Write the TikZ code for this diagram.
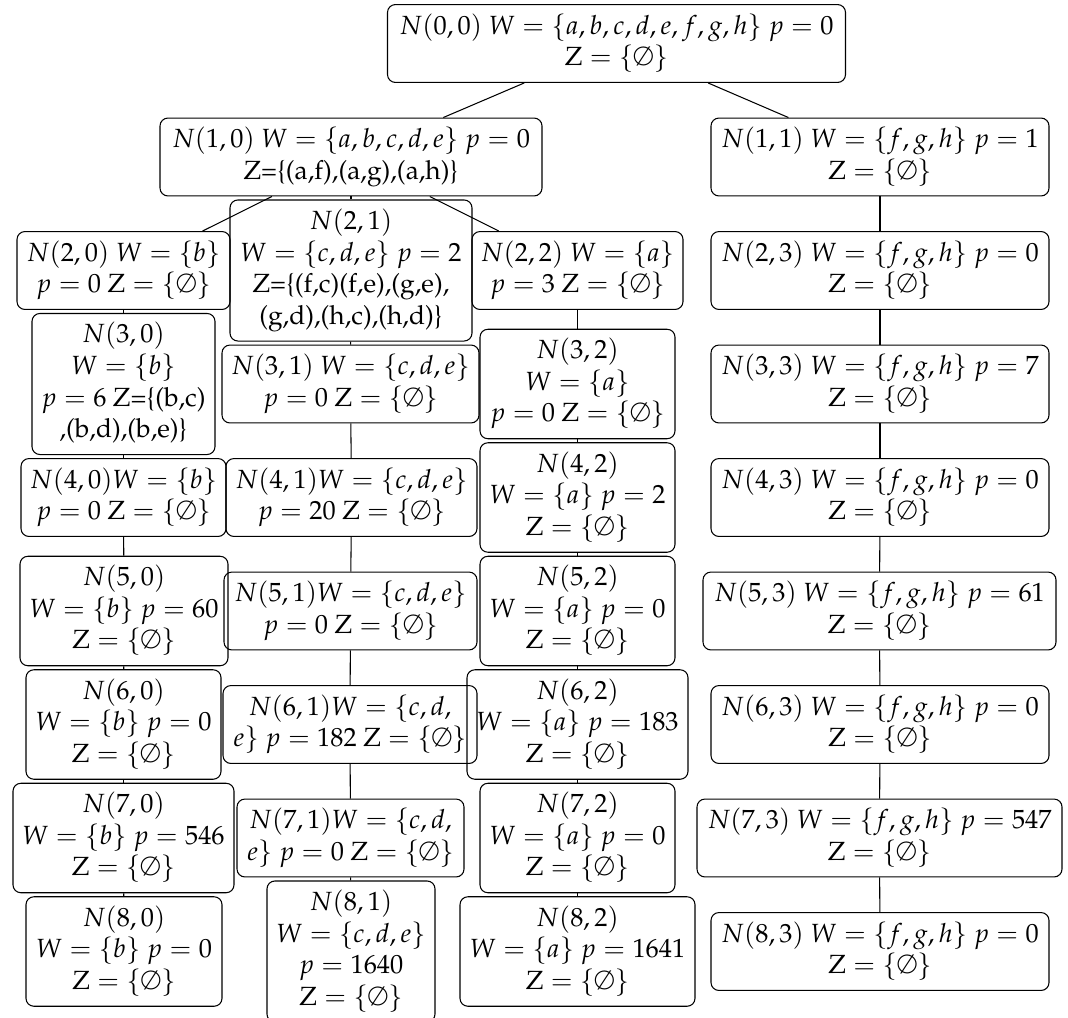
\documentclass[tikz,border=0pt]{standalone}
\usepackage[T1]{fontenc}
\usepackage{mathpazo}
\newlength\pxu
\setlength\pxu{0.38pt}
\newcommand\nb[2]{\makebox[#1\pxu]{\begin{tabular}{@{}c@{}}#2\end{tabular}}}
\newcommand\Ze{Z${}=\{\emptyset\}$}
\begin{document}
\begin{tikzpicture}[x=0.38pt,y=-0.38pt,
  nd/.style={draw,rounded corners=3pt,inner xsep=0pt,inner ysep=2.8pt,line width=0.4pt},
  ed/.style={line width=0.4pt}]
\useasboundingbox (0,0) rectangle (1068,1018);
% level 0-1
\node[nd] (r)   at (616.5,43.5) {\nb{458}{$N(0,0)$ $W=\{a,b,c,d,e,f,g,h\}$ $p=0$\\ \Ze}};
\node[nd] (n10) at (351,157)   {\nb{382}{$N(1,0)$ $W=\{a,b,c,d,e\}$ $p=0$\\ Z=\{(a,f),(a,g),(a,h)\}}};
\node[nd] (n11) at (880,157)   {\nb{338}{$N(1,1)$ $W=\{f,g,h\}$ $p=1$\\ \Ze}};
% level 2
\node[nd] (n20) at (123.5,270.5) {\nb{213}{$N(2,0)$ $W=\{b\}$\\ $p=0$ \Ze}};
\node[nd] (n21) at (351,270.5)   {\nb{242}{$N(2,1)$\\ $W=\{c,d,e\}$ $p=2$\\ Z=\{(f,c)(f,e),(g,e),\\ (g,d),(h,c),(h,d)\}}};
\node[nd] (n22) at (577.5,270.5) {\nb{211}{$N(2,2)$ $W=\{a\}$\\ $p=3$ \Ze}};
\node[nd] (n23) at (880,270.5)   {\nb{338}{$N(2,3)$ $W=\{f,g,h\}$ $p=0$\\ \Ze}};
% level 3
\node[nd] (n30) at (123.5,384) {\nb{183}{$N(3,0)$\\ $W=\{b\}$\\ $p=6$ Z=\{(b,c)\\ ,(b,d),(b,e)\}}};
\node[nd] (n31) at (350.5,384) {\nb{257}{$N(3,1)$ $W=\{c,d,e\}$\\ $p=0$ \Ze}};
\node[nd] (n32) at (577.5,384) {\nb{195}{$N(3,2)$\\ $W=\{a\}$\\ $p=0$ \Ze}};
\node[nd] (n33) at (880,384)   {\nb{338}{$N(3,3)$ $W=\{f,g,h\}$ $p=7$\\ \Ze}};
% level 4
\node[nd] (n40) at (123.5,497.5) {\nb{205}{$N(4,0)W=\{b\}$\\ $p=0$ \Ze}};
\node[nd] (n41) at (351.5,497.5) {\nb{251}{$N(4,1)W=\{c,d,e\}$\\ $p=20$ \Ze}};
\node[nd] (n42) at (577.5,497.5) {\nb{195}{$N(4,2)$\\ $W=\{a\}$ $p=2$\\ \Ze}};
\node[nd] (n43) at (880,497.5)   {\nb{338}{$N(4,3)$ $W=\{f,g,h\}$ $p=0$\\ \Ze}};
% level 5
\node[nd] (n50) at (124,611)   {\nb{208}{$N(5,0)$\\ $W=\{b\}$ $p=60$\\ \Ze}};
\node[nd] (n51) at (350.5,611) {\nb{253}{$N(5,1)W=\{c,d,e\}$\\ $p=0$ \Ze}};
\node[nd] (n52) at (577.5,611) {\nb{195}{$N(5,2)$\\ $W=\{a\}$ $p=0$\\ \Ze}};
\node[nd] (n53) at (879.5,611) {\nb{353}{$N(5,3)$ $W=\{f,g,h\}$ $p=61$\\ \Ze}};
% level 6
\node[nd] (n60) at (123.5,724.5) {\nb{195}{$N(6,0)$\\ $W=\{b\}$ $p=0$\\ \Ze}};
\node[nd] (n61) at (350,724.5)   {\nb{254}{$N(6,1)W=\{c,d,$\\ $e\}$ $p=182$ \Ze}};
\node[nd] (n62) at (577.5,724.5) {\nb{221}{$N(6,2)$\\ $W=\{a\}$ $p=183$\\ \Ze}};
\node[nd] (n63) at (880,724.5)   {\nb{338}{$N(6,3)$ $W=\{f,g,h\}$ $p=0$\\ \Ze}};
% level 7
\node[nd] (n70) at (123.5,838) {\nb{221}{$N(7,0)$\\ $W=\{b\}$ $p=546$\\ \Ze}};
\node[nd] (n71) at (350.5,838) {\nb{227}{$N(7,1)W=\{c,d,$\\ $e\}$ $p=0$ \Ze}};
\node[nd] (n72) at (577.5,838) {\nb{195}{$N(7,2)$\\ $W=\{a\}$ $p=0$\\ \Ze}};
\node[nd] (n73) at (879.5,838) {\nb{365}{$N(7,3)$ $W=\{f,g,h\}$ $p=547$\\ \Ze}};
% level 8
\node[nd] (n80) at (124,951.5)   {\nb{196}{$N(8,0)$\\ $W=\{b\}$ $p=0$\\ \Ze}};
\node[nd] (n81) at (351,951.5)   {\nb{168}{$N(8,1)$\\ $W=\{c,d,e\}$\\ $p=1640$\\ \Ze}};
\node[nd] (n82) at (577.5,951.5) {\nb{235}{$N(8,2)$\\ $W=\{a\}$ $p=1641$\\ \Ze}};
\node[nd] (n83) at (880,951.5)   {\nb{338}{$N(8,3)$ $W=\{f,g,h\}$ $p=0$\\ \Ze}};
% edges
\draw[ed] (r) -- (n10);
\draw[ed] (r) -- (n11);
\draw[ed] (n10) -- (n20);
\draw[ed] (n10) -- (n21);
\draw[ed] (n10) -- (n22);
\draw[ed] (n11) -- (n23);
\foreach \c in {0,1,2,3}{
  \foreach \a/\b in {2/3,3/4,4/5,5/6,6/7,7/8}{
    \draw[ed] (n\a\c) -- (n\b\c);
  }
}
\end{tikzpicture}
\end{document}
